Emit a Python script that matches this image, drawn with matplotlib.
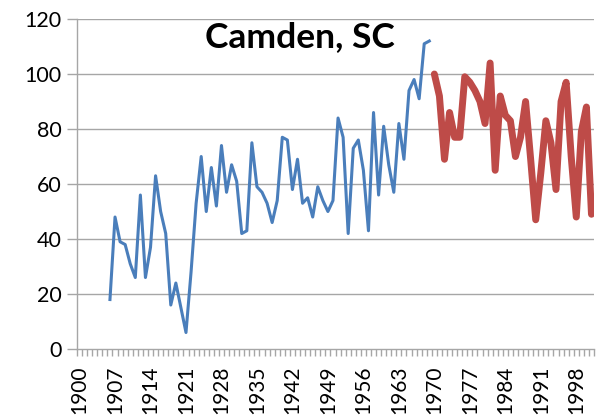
import matplotlib
matplotlib.use("Agg")
import matplotlib.pyplot as plt
from matplotlib.ticker import FixedLocator

# ---- data ----
hist_years = list(range(1906, 1970))
hist_values = [18, 48, 39, 38, 31, 26, 56, 26, 37, 63,
               50, 42, 16, 24, 15, 6, 28, 53, 70, 50,
               66, 52, 74, 57, 67, 61, 42, 43, 75, 59,
               57, 53, 46, 54, 77, 76, 58, 69, 53, 55,
               48, 59, 54, 50, 54, 84, 77, 42, 73, 76,
               65, 43, 86, 56, 81, 67, 57, 82, 69, 94,
               98, 91, 111, 112]
recent_years = list(range(1970, 2002))
recent_values = [100, 92, 69, 86, 77, 77, 99, 97, 94, 90,
                 82, 104, 65, 92, 85, 83, 70, 77, 90, 69,
                 47, 64, 83, 75, 58, 90, 97, 70, 48, 79,
                 88, 49]
label_years = [1900, 1907, 1914, 1921, 1928, 1935, 1942, 1949,
               1956, 1963, 1970, 1977, 1984, 1991, 1998]
y_ticks = [0, 20, 40, 60, 80, 100, 120]
title = "Camden, SC"

plt.rcParams['font.family'] = ['Lato', 'DejaVu Sans']

fig = plt.figure(figsize=(5.97, 4.18), dpi=100)
ax = fig.add_axes([0.129, 0.165, 0.866, 0.7895])

grid_color = "#A6A6A6"
for y in y_ticks[1:]:
    ax.axhline(y, color=grid_color, lw=1.0, zorder=1)

ax.plot(hist_years, hist_values, color="#4A7EBB", lw=2.2, zorder=3,
        solid_joinstyle="round")
ax.plot(recent_years, recent_values, color="#BE4B48", lw=5.0, zorder=3,
        solid_joinstyle="round", solid_capstyle="round")

ax.set_xlim(1899.5, 2001.5)
ax.set_ylim(0, 120)

for s in ["top", "right"]:
    ax.spines[s].set_visible(False)
for s in ["left", "bottom"]:
    ax.spines[s].set_color(grid_color)
    ax.spines[s].set_linewidth(1.0)

ax.set_yticks(y_ticks)
ax.set_yticklabels([str(v) for v in y_ticks])
ax.tick_params(axis="y", length=7, color=grid_color, width=1.0,
               labelsize=15.5, pad=4, labelcolor="#000000")

ax.set_xticks(label_years)
ax.set_xticklabels([str(v) for v in label_years], rotation=90)
ax.xaxis.set_minor_locator(FixedLocator([1899.5 + k for k in range(103)]))
ax.tick_params(axis="x", which="major", length=0, pad=12, labelsize=15)
ax.tick_params(axis="x", which="minor", length=5, color=grid_color, width=1.0)

fig.text(0.503, 0.912, title, ha="center", va="center", fontsize=25.5,
         fontweight="bold", color="#000000")

fig.savefig("out.png", dpi=100)
